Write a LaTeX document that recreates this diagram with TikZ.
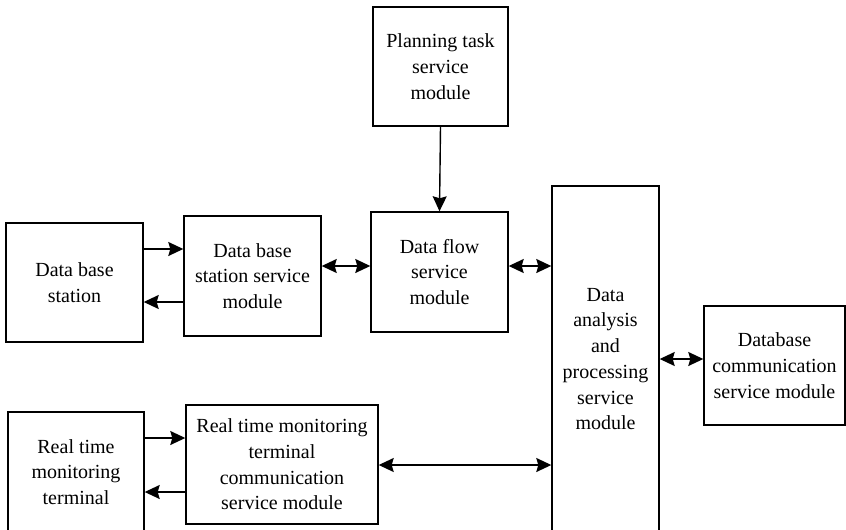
\documentclass[tikz,border=0pt]{standalone}
\usepackage{fontspec}
\setmainfont{Liberation Serif}
\usetikzlibrary{arrows.meta}
\begin{document}
\begin{tikzpicture}[x=1pt,y=-1pt,
  box/.style={draw, line width=1.4pt, inner sep=0pt, align=center,
    font=\fontsize{20}{25.7}\selectfont},
  tip/.tip={Stealth[length=15pt,width=14pt,inset=2pt]},
  arr/.style={line width=1.4pt, -tip},
  biarr/.style={line width=1.4pt, tip-tip}]
\useasboundingbox (0,0) rectangle (846,530);
\node[box, minimum width=135pt, minimum height=119pt] (plan) at (440.5,66.5) {Planning task\\service\\module};
\node[box, minimum width=137pt, minimum height=119pt] (dbs) at (74.5,282.5) {Data base\\station};
\node[box, minimum width=137pt, minimum height=120pt] (dbss) at (252.5,276) {Data base\\station service\\module};
\node[box, minimum width=137pt, minimum height=120pt] (flow) at (439.5,272) {Data flow\\service\\module};
\node[box, minimum width=107pt, minimum height=346pt] (ana) at (605.5,359) {Data\\analysis\\and\\processing\\service\\module};
\node[box, minimum width=141pt, minimum height=119pt] (dbc) at (774.5,365.5) {Database\\communication\\service module};
\node[box, minimum width=136pt, minimum height=120pt] (rtt) at (76,472) {Real time\\monitoring\\terminal};
\node[box, minimum width=192pt, minimum height=119pt] (rtc) at (282,464.5) {Real time monitoring\\terminal\\communication\\service module};
\draw[arr] (plan.south) -- (flow.north);
\draw[arr] (dbs.east |- 0,249) -- (dbss.west |- 0,249);
\draw[arr] (dbss.west |- 0,302) -- (dbs.east |- 0,302);
\draw[biarr] (dbss.east |- 0,266) -- (flow.west |- 0,266);
\draw[biarr] (flow.east |- 0,266) -- (ana.west |- 0,266);
\draw[biarr] (ana.east |- 0,359) -- (dbc.west |- 0,359);
\draw[arr] (rtt.east |- 0,438) -- (rtc.west |- 0,438);
\draw[arr] (rtc.west |- 0,492) -- (rtt.east |- 0,492);
\draw[biarr] (rtc.east |- 0,465) -- (ana.west |- 0,465);
\end{tikzpicture}
\end{document}
